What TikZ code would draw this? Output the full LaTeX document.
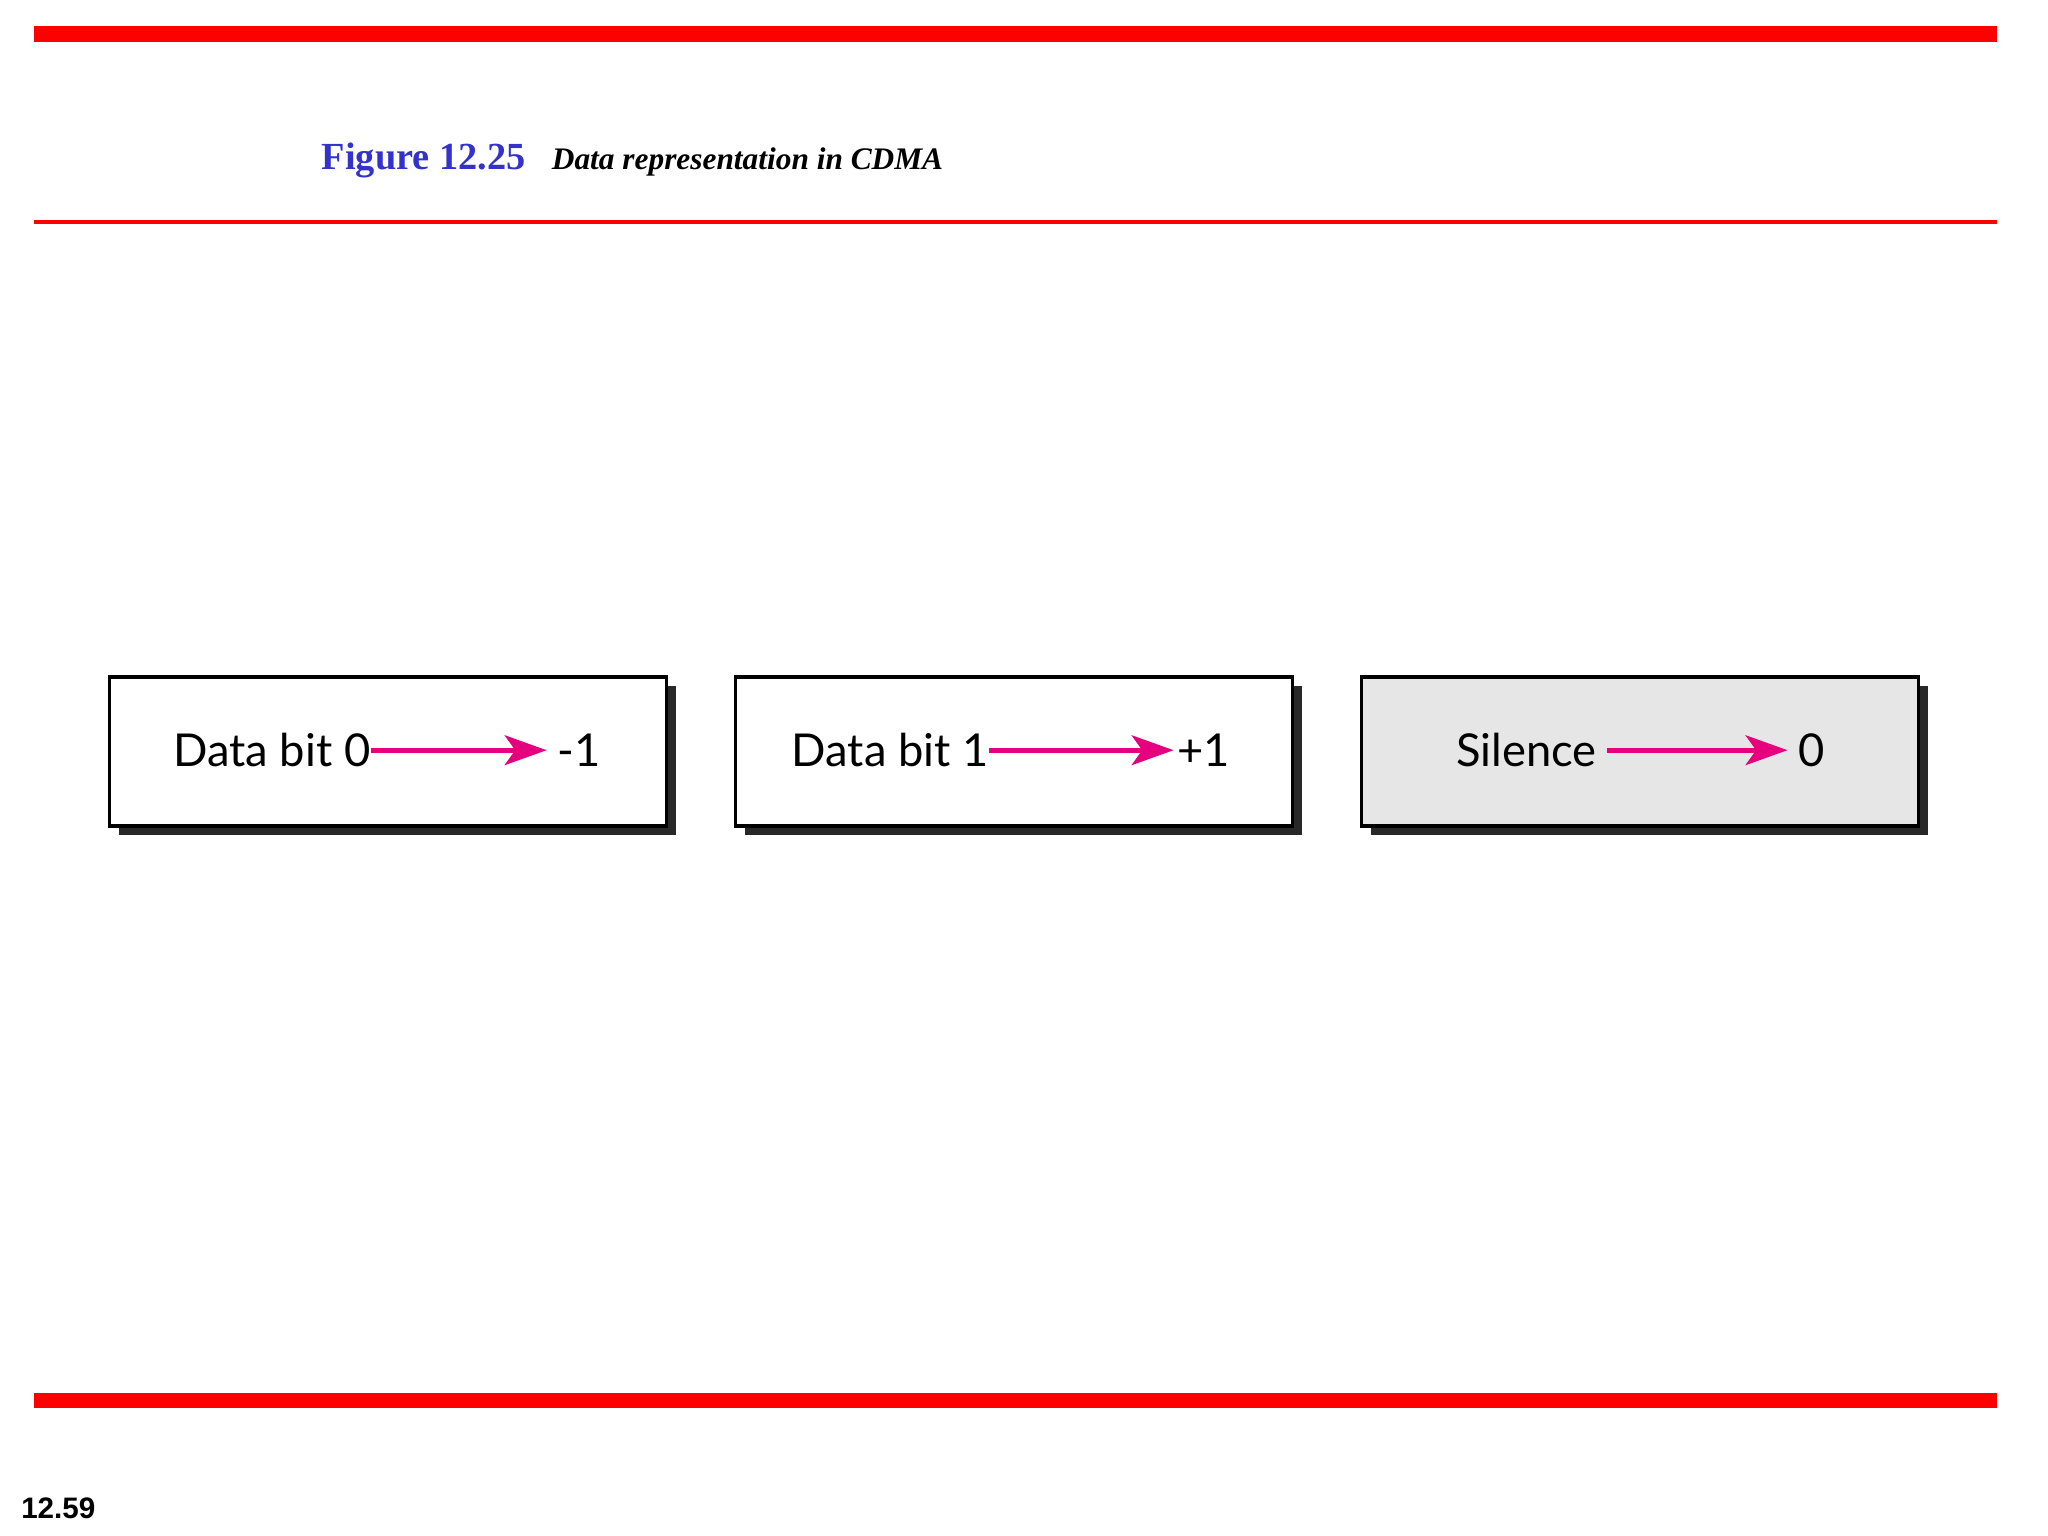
\documentclass[tikz,border=0pt]{standalone}
\usepackage{fontspec}
\setmainfont{Liberation Serif}
\newfontfamily\boxfont{Lato}
\newfontfamily\pagefont{Liberation Sans}
\usetikzlibrary{arrows.meta}
\definecolor{barred}{RGB}{255,0,0}
\definecolor{figblue}{RGB}{51,51,204}
\definecolor{arrowpink}{RGB}{230,0,126}
\definecolor{shadowgray}{RGB}{40,40,40}
\definecolor{silencegray}{RGB}{230,230,230}
\tikzset{
  mapbox/.style={draw=black,line width=1.8pt},
  boxtext/.style={font=\boxfont\fontsize{26}{30}\selectfont,inner sep=0pt},
  maparrow/.style={draw=arrowpink,line width=3pt,-{Stealth[length=24pt,width=17pt,inset=6pt]}}
}
\begin{document}
\begin{tikzpicture}[x=0.75pt,y=0.75pt,yscale=-1,xscale=1]
\useasboundingbox (0,0) rectangle (1567,1175);
\fill[barred] (26,20) rectangle (1528,32);
\draw[barred,line width=2.2pt] (26,170) -- (1528,170);
\fill[barred] (26,1066) rectangle (1528,1077);

\node (fig) [anchor=base west,inner sep=0pt,text=figblue,font=\bfseries\fontsize{22}{26}\selectfont] at (246,130) {Figure 12.25};
\node (cap) [anchor=base west,inner sep=0pt,font=\bfseries\itshape\fontsize{18}{22}\selectfont] at (422,130) {Data representation in CDMA};

% boxes with shadow
\foreach \x/\c in {84/white,563/white,1042/silencegray}{
  \fill[shadowgray] (\x+7,525) rectangle (\x+433,639);
  \filldraw[mapbox,fill=\c] (\x,518) rectangle (\x+426,632);
}

\node (bit0) [boxtext] at (208,574) {Data bit 0};
\node (neg) [boxtext] at (443,574) {-1};
\node (bit1) [boxtext] at (681,574) {Data bit 1};
\node (pos) [boxtext] at (921,574) {+1};
\node (sil) [boxtext] at (1168,574) {Silence};
\node (zero) [boxtext] at (1386,574) {0};

\draw[maparrow] (bit0.east) -- ([xshift=-6pt]neg.west);
\draw[maparrow] (bit1.east) -- ([xshift=-2pt]pos.west);
\draw[maparrow] ([xshift=6pt]sil.east) -- ([xshift=-6pt]zero.west);

\node (page) [anchor=base west,inner sep=0pt,font=\pagefont\bfseries\fontsize{17}{20}\selectfont] at (16,1162) {12.59};
\end{tikzpicture}
\end{document}
